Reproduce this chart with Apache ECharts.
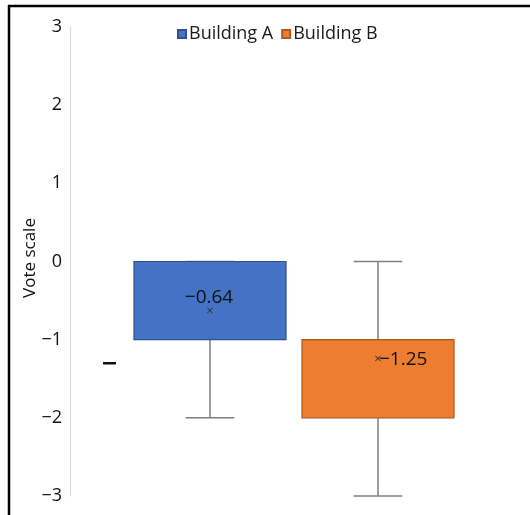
<!DOCTYPE html>
<html>
<head>
<meta charset="utf-8">
<script src="https://cdn.jsdelivr.net/npm/echarts@6/dist/echarts.min.js"></script>
<style>html,body{margin:0;padding:0;background:#fff;}#c{width:530px;height:515px;}</style>
</head>
<body>
<div id="c"></div>
<script>
// ---- data ----
const categories = ['Building A', 'Building B'];
const seriesNames = ['Building A', 'Building B'];
const mins    = [-2, -3];
const q1s     = [-1, -2];
const medians = [0, -1];
const q3s     = [0, -1];
const maxs    = [0, 0];
const means   = [-0.64, -1.25];
const meanLabels = ['−0.64', '−1.25'];
const yTicks = [-3, -2, -1, 0, 1, 2, 3];
const yAxisTitle = 'Vote scale';

// ---- style ----
const fills   = ['#4472C4', '#ED7D31'];
const borders = ['#2F528F', '#AE5A21'];
const labelModes = ['above', 'right'];
const FONT = '"Open Sans", "Noto Sans", sans-serif';

function fmt(v){ return String(v).replace('-', '−'); }

function makeRender(idx){
  return function(params, api){
    const x = api.value(0);
    const bw = api.size([1, 0])[0] * 0.905;
    const capW = bw * 0.32;
    const pMin = api.coord([x, api.value(1)]);
    const pQ1  = api.coord([x, api.value(2)]);
    const pMed = api.coord([x, api.value(3)]);
    const pQ3  = api.coord([x, api.value(4)]);
    const pMax = api.coord([x, api.value(5)]);
    const pMean= api.coord([x, api.value(6)]);
    const cx = pQ1[0];
    const wStyle = {stroke: '#7F7F7F', lineWidth: 1.5};
    const children = [
      {type:'line', shape:{x1:cx, y1:pQ1[1], x2:cx, y2:pMin[1]}, style:wStyle},
      {type:'line', shape:{x1:cx-capW/2, y1:pMin[1], x2:cx+capW/2, y2:pMin[1]}, style:wStyle},
      {type:'line', shape:{x1:cx, y1:pQ3[1], x2:cx, y2:pMax[1]}, style:wStyle},
      {type:'line', shape:{x1:cx-capW/2, y1:pMax[1], x2:cx+capW/2, y2:pMax[1]}, style:wStyle},
      {type:'rect', shape:{x:cx-bw/2, y:pQ3[1], width:bw, height:pQ1[1]-pQ3[1]},
        style:{fill:fills[idx], stroke:borders[idx], lineWidth:1.2}},
      {type:'line', shape:{x1:cx-bw/2, y1:pMed[1], x2:cx+bw/2, y2:pMed[1]}, style:{stroke:borders[idx], lineWidth:1.2}},
      {type:'text', style:{text:'×', x:pMean[0], y:pMean[1], align:'center', verticalAlign:'middle',
        font:'13px ' + FONT, fill:'#333'}}
    ];
    if (labelModes[idx] === 'above') {
      children.push({type:'text', style:{text:meanLabels[idx], x:pMean[0]-1, y:pMean[1]-14, align:'center',
        verticalAlign:'middle', font:'19px ' + FONT, fill:'#111'}});
    } else {
      children.push({type:'text', style:{text:meanLabels[idx], x:pMean[0]+1, y:pMean[1], align:'left',
        verticalAlign:'middle', font:'19px ' + FONT, fill:'#111'}});
    }
    return {type:'group', children};
  };
}

const series = seriesNames.map((name, i) => ({
  name: name,
  type: 'custom',
  renderItem: makeRender(i),
  itemStyle: {color: fills[i], borderColor: borders[i], borderWidth: 1},
  encode: {x: 0, y: [1, 2, 3, 4, 5]},
  data: [[i, mins[i], q1s[i], medians[i], q3s[i], maxs[i], means[i]]]
}));

const chart = echarts.init(document.getElementById('c'), null, {renderer: 'canvas'});
chart.setOption({
  backgroundColor: '#fff',
  animation: false,
  legend: {
    data: seriesNames,
    top: 20, left: 172,
    icon: 'rect', itemWidth: 8, itemHeight: 8, itemGap: 8,
    textStyle: {fontFamily: FONT, fontSize: 18, color: '#1a1a1a', padding: [0,0,0,-2]}
  },
  grid: {left: 126, right: 68, top: 27, bottom: 19},
  xAxis: {
    type: 'category', data: categories,
    axisLine: {show: false}, axisTick: {show: false}, axisLabel: {show: false}, splitLine: {show: false}
  },
  yAxis: {
    type: 'value', min: yTicks[0], max: yTicks[yTicks.length-1], interval: 1,
    offset: 56,
    axisLine: {show: true, lineStyle: {color: '#D9D9D9', width: 1}},
    axisTick: {show: false},
    splitLine: {show: false},
    axisLabel: {formatter: fmt, fontFamily: FONT, fontSize: 18, color: '#111', margin: 8}
  },
  graphic: [
    {type:'line', shape:{x1:8, y1:6, x2:530, y2:6}, style:{stroke:'#000', lineWidth:2.5}},
    {type:'line', shape:{x1:9, y1:5, x2:9, y2:515}, style:{stroke:'#000', lineWidth:2.5}},
    {type:'rect', shape:{x:103, y:362, width:13, height:2.5}, style:{fill:'#111'}},
    {type:'text', x:30, y:258, rotation:Math.PI/2,
      style:{text:yAxisTitle, align:'center', verticalAlign:'middle', font:'17px ' + FONT, fill:'#111'}}
  ],
  series: series
});
</script>
</body>
</html>
